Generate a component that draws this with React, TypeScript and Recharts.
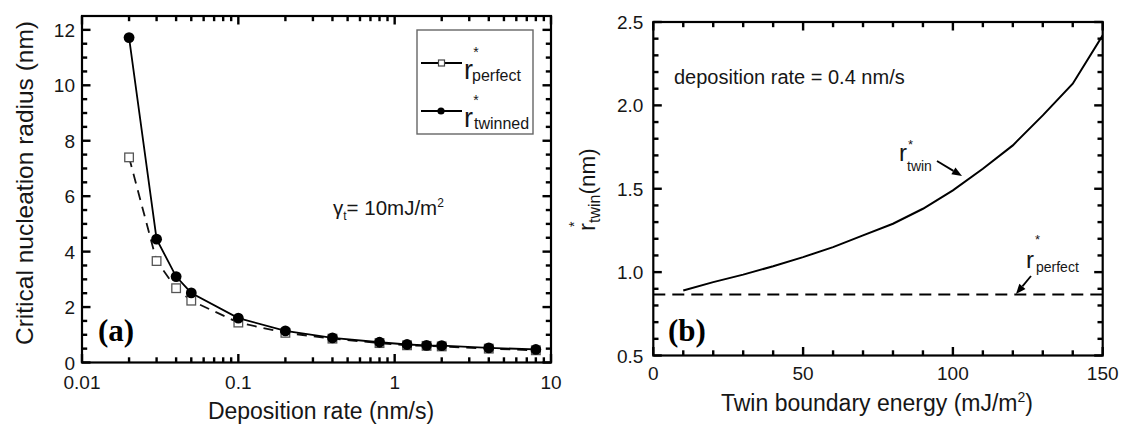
import React from "react";
import { Line, LineChart, XAxis, YAxis } from "recharts";

// (a) critical radius vs deposition rate, gamma_t = 10 mJ/m^2
const rates = [0.02, 0.03, 0.04, 0.05, 0.1, 0.2, 0.4, 0.8, 1.2, 1.6, 2, 4, 8];
const rPerfectByRate = [7.4, 3.66, 2.68, 2.23, 1.44, 1.07, 0.86, 0.7, 0.62, 0.6, 0.58, 0.5, 0.44];
const rTwinnedByRate = [11.72, 4.45, 3.1, 2.51, 1.6, 1.14, 0.89, 0.73, 0.65, 0.62, 0.61, 0.53, 0.47];

// (b) critical radius vs twin boundary energy at 0.4 nm/s
const energies = [10, 20, 30, 40, 50, 60, 70, 80, 90, 100, 110, 120, 130, 140, 150];
const rTwinByEnergy = [0.89, 0.94, 0.985, 1.035, 1.09, 1.15, 1.22, 1.29, 1.38, 1.49, 1.62, 1.76, 1.94, 2.13, 2.42];
const perfectEnergies = [0, 150];
const rPerfectFlat = [0.866, 0.866];

const rateTicks = [
  0.01, 0.02, 0.03, 0.04, 0.05, 0.06, 0.07, 0.08, 0.09,
  0.1, 0.2, 0.3, 0.4, 0.5, 0.6, 0.7, 0.8, 0.9,
  1, 2, 3, 4, 5, 6, 7, 8, 9, 10,
];
const rateMajor = [0.01, 0.1, 1, 10];
const radiusTicks = [0, 0.5, 1, 1.5, 2, 2.5, 3, 3.5, 4, 4.5, 5, 5.5, 6, 6.5, 7, 7.5, 8, 8.5, 9, 9.5, 10, 10.5, 11, 11.5, 12];
const radiusMajor = [0, 2, 4, 6, 8, 10, 12];
const energyTicks = [0, 10, 20, 30, 40, 50, 60, 70, 80, 90, 100, 110, 120, 130, 140, 150];
const energyMajor = [0, 50, 100, 150];
const rTicks = [0.5, 0.6, 0.7, 0.8, 0.9, 1, 1.1, 1.2, 1.3, 1.4, 1.5, 1.6, 1.7, 1.8, 1.9, 2, 2.1, 2.2, 2.3, 2.4, 2.5];
const rMajor = [0.5, 1, 1.5, 2, 2.5];

const rateSeries = (ys: number[]) => rates.map((x, i) => ({ x, y: ys[i] }));
const energySeries = (xs: number[], ys: number[]) => xs.map((x, i) => ({ x, y: ys[i] }));

const SANS = "'Liberation Sans', Arial, Helvetica, sans-serif";
const SERIF = "'Liberation Serif', 'Times New Roman', serif";
const INK = "#161616";

// plot boxes in page pixels; chart margins are derived from them
const H = 425;
const AXIS_W = 60;
const AXIS_H = 60;
const PA = { left: 82, right: 551, top: 16, bottom: 362.5, offset: 0, width: 580 };
const PB = { left: 653.3, right: 1102.7, top: 22, bottom: 355.5, offset: 560, width: 561 };

const marginOf = (p: typeof PA) => ({
  top: p.top,
  bottom: H - p.bottom - AXIS_H,
  left: p.left - p.offset - AXIS_W,
  right: p.width - (p.right - p.offset),
});

const isIn = (list: number[], v: number) => list.some((m) => Math.abs(m - v) < 1e-9);

function bottomLabel(major: number[], fmt: (v: number) => string, gap: number) {
  return (props: any) => {
    const { x, y, payload } = props;
    if (!isIn(major, payload.value)) return <g />;
    return (
      <text x={x} y={y + gap} textAnchor="middle" fontFamily={SANS} fontSize={19} fill={INK}>
        {fmt(payload.value)}
      </text>
    );
  };
}

function leftLabel(major: number[], fmt: (v: number) => string, gap: number) {
  return (props: any) => {
    const { x, y, payload } = props;
    if (!isIn(major, payload.value)) return <g />;
    return (
      <text x={x - gap} y={y + 7} textAnchor="end" fontFamily={SANS} fontSize={19} fill={INK}>
        {fmt(payload.value)}
      </text>
    );
  };
}

// inward tick marks as small filled bars on all four sides
function Frame({
  box, xTicks, xMajor, xPos, yTicks, yMajor, yPos,
}: {
  box: typeof PA; xTicks: number[]; xMajor: number[]; xPos: (v: number) => number;
  yTicks: number[]; yMajor: number[]; yPos: (v: number) => number;
}) {
  const len = (v: number, major: number[]) => (isIn(major, v) ? 8.5 : 5.2);
  const t = 2.4;
  const bars: React.ReactNode[] = [];
  xTicks.forEach((v, i) => {
    const x = xPos(v);
    const l = len(v, xMajor);
    bars.push(<rect key={`xb${i}`} x={x - t / 2} y={box.bottom - l} width={t} height={l} fill="#000" />);
    bars.push(<rect key={`xt${i}`} x={x - t / 2} y={box.top} width={t} height={l} fill="#000" />);
  });
  yTicks.forEach((v, i) => {
    const y = yPos(v);
    const l = len(v, yMajor);
    bars.push(<rect key={`yl${i}`} x={box.left} y={y - t / 2} width={l} height={t} fill="#000" />);
    bars.push(<rect key={`yr${i}`} x={box.right - l} y={y - t / 2} width={l} height={t} fill="#000" />);
  });
  return (
    <g>
      {bars}
      <rect
        x={box.left}
        y={box.top}
        width={box.right - box.left}
        height={box.bottom - box.top}
        fill="none"
        stroke="#000"
        strokeWidth={2.2}
      />
    </g>
  );
}

const rateX = (v: number) => PA.left + ((Math.log10(v) + 2) / 3) * (PA.right - PA.left);
const radiusY = (v: number) => PA.bottom - (v / 12.5) * (PA.bottom - PA.top);
const energyX = (v: number) => PB.left + (v / 150) * (PB.right - PB.left);
const rY = (v: number) => PB.bottom - ((v - 0.5) / 2) * (PB.bottom - PB.top);

function OpenSquare(props: any) {
  const { cx, cy, index } = props;
  return <rect key={`sq-${index}`} x={cx - 4.3} y={cy - 4.3} width={8.6} height={8.6} fill="#fff" stroke="#555" strokeWidth={1.3} />;
}

function Arrow({ x1, y1, x2, y2 }: { x1: number; y1: number; x2: number; y2: number }) {
  const a = Math.atan2(y2 - y1, x2 - x1);
  const L = 10;
  const W = 4;
  const bx = x2 - L * Math.cos(a);
  const by = y2 - L * Math.sin(a);
  const px = -Math.sin(a) * W;
  const py = Math.cos(a) * W;
  return (
    <g>
      <line x1={x1} y1={y1} x2={bx} y2={by} stroke="#000" strokeWidth={1.8} />
      <polygon points={`${x2},${y2} ${bx + px},${by + py} ${bx - px},${by - py}`} fill="#000" />
    </g>
  );
}

function RateChart() {
  return (
    <LineChart width={PA.width} height={H} margin={marginOf(PA)}>
      <XAxis
        orientation="bottom"
        type="number"
        dataKey="x"
        scale="log"
        domain={[0.01, 10]}
        allowDataOverflow
        ticks={rateTicks}
        interval={0}
        height={AXIS_H}
        tickSize={0}
        tickMargin={0}
        tickLine={false}
        axisLine={false}
        tick={bottomLabel(rateMajor, (v) => String(v), 26)}
      />
      <YAxis
        type="number"
        domain={[0, 12.5]}
        allowDataOverflow
        ticks={radiusTicks}
        interval={0}
        width={AXIS_W}
        tickSize={0}
        tickMargin={0}
        tickLine={false}
        axisLine={false}
        tick={leftLabel(radiusMajor, (v) => String(v), 7)}
      />
      <Line
        data={rateSeries(rPerfectByRate)}
        dataKey="y"
        type="linear"
        stroke="#111"
        strokeWidth={1.8}
        strokeDasharray="10 7"
        dot={OpenSquare}
        isAnimationActive={false}
      />
      <Line
        data={rateSeries(rTwinnedByRate)}
        dataKey="y"
        type="linear"
        stroke="#000"
        strokeWidth={1.8}
        dot={{ r: 5.4, fill: "#000", stroke: "#000", strokeWidth: 0 }}
        isAnimationActive={false}
      />
    </LineChart>
  );
}

function EnergyChart() {
  return (
    <LineChart width={PB.width} height={H} margin={marginOf(PB)}>
      <XAxis
        orientation="bottom"
        type="number"
        dataKey="x"
        domain={[0, 150]}
        allowDataOverflow
        ticks={energyTicks}
        interval={0}
        height={AXIS_H}
        tickSize={0}
        tickMargin={0}
        tickLine={false}
        axisLine={false}
        tick={bottomLabel(energyMajor, (v) => String(v), 24)}
      />
      <YAxis
        type="number"
        domain={[0.5, 2.5]}
        allowDataOverflow
        ticks={rTicks}
        interval={0}
        width={AXIS_W}
        tickSize={0}
        tickMargin={0}
        tickLine={false}
        axisLine={false}
        tick={leftLabel(rMajor, (v) => v.toFixed(1), 10)}
      />
      <Line
        data={energySeries(perfectEnergies, rPerfectFlat)}
        dataKey="y"
        type="linear"
        stroke="#000"
        strokeWidth={2}
        strokeDasharray="12 7"
        dot={false}
        isAnimationActive={false}
      />
      <Line
        data={energySeries(energies, rTwinByEnergy)}
        dataKey="y"
        type="linear"
        stroke="#000"
        strokeWidth={2}
        dot={false}
        isAnimationActive={false}
      />
    </LineChart>
  );
}

function Annotations() {
  return (
    <svg width={1121} height={H} style={{ position: "absolute", left: 0, top: 0, pointerEvents: "none" }}>
      <Frame box={PA} xTicks={rateTicks} xMajor={rateMajor} xPos={rateX} yTicks={radiusTicks} yMajor={radiusMajor} yPos={radiusY} />
      <Frame box={PB} xTicks={energyTicks} xMajor={energyMajor} xPos={energyX} yTicks={rTicks} yMajor={rMajor} yPos={rY} />

      <g fontFamily={SANS} fill={INK}>
        {/* panel (a) titles */}
        <text transform="translate(33,183) rotate(-90)" textAnchor="middle" fontSize={24.5}>
          Critical nucleation radius (nm)
        </text>
        <text x={321} y={419} textAnchor="middle" fontSize={23}>
          Deposition rate (nm/s)
        </text>

        {/* legend */}
        <rect x={417} y={30} width={116} height={104} fill="#fff" stroke="#666" strokeWidth={1.4} />
        <line x1={421} y1={63} x2={462} y2={63} stroke="#000" strokeWidth={1.8} />
        <rect x={438.5} y={60} width={6} height={6} fill="#fff" stroke="#444" strokeWidth={1.2} />
        <text x={476} y={57} fontSize={14} textAnchor="middle">*</text>
        <text x={464} y={79} fontSize={27}>r</text>
        <text x={472} y={81} fontSize={16}>perfect</text>
        <line x1={421} y1={111} x2={462} y2={111} stroke="#000" strokeWidth={1.8} />
        <circle cx={441} cy={111} r={3.6} fill="#000" />
        <text x={476} y={105} fontSize={14} textAnchor="middle">*</text>
        <text x={464} y={127} fontSize={27}>r</text>
        <text x={474} y={129} fontSize={16}>twinned</text>

        <text x={333} y={215} fontSize={20.5}>
          γ<tspan fontSize={12} dy={5}>t</tspan>
          <tspan fontSize={20.5} dy={-5}>= 10mJ/m</tspan>
          <tspan fontSize={12} dy={-8}>2</tspan>
        </text>

        {/* panel (b) titles */}
        <g transform="translate(595,181) rotate(-90)">
          <text x={-50} y={0} fontSize={24}>
            r<tspan fontSize={16} dy={5}>twin</tspan>
            <tspan fontSize={22.5} dy={-5}>(nm)</tspan>
          </text>
          <text x={-46} y={-16} fontSize={14}>*</text>
        </g>
        <text x={877} y={411} textAnchor="middle" fontSize={23}>
          Twin boundary energy (mJ/m<tspan fontSize={14} dy={-9}>2</tspan>
          <tspan dy={9}>)</tspan>
        </text>

        <text x={674} y={84} fontSize={20}>deposition rate = 0.4 nm/s</text>

        <text x={899} y={161} fontSize={24}>r</text>
        <text x={908} y={149} fontSize={13}>*</text>
        <text x={907} y={171} fontSize={14}>twin</text>
        <Arrow x1={937} y1={161} x2={962} y2={176} />

        <text x={1026} y={268} fontSize={24}>r</text>
        <text x={1035} y={244} fontSize={13}>*</text>
        <text x={1036} y={272} fontSize={14}>perfect</text>
        <Arrow x1={1031} y1={276} x2={1016} y2={294} />
      </g>
      <g fontFamily={SERIF} fontWeight="bold" fontSize={31} fill="#000">
        <text x={98} y={341}>(a)</text>
        <text x={668} y={341}>(b)</text>
      </g>
    </svg>
  );
}

export default function App() {
  return (
    <div style={{ position: "absolute", left: 0, top: 0, width: 1121, height: H, background: "#fff" }}>
      <div style={{ position: "absolute", left: PA.offset, top: 0 }}>
        <RateChart />
      </div>
      <div style={{ position: "absolute", left: PB.offset, top: 0 }}>
        <EnergyChart />
      </div>
      <Annotations />
    </div>
  );
}
